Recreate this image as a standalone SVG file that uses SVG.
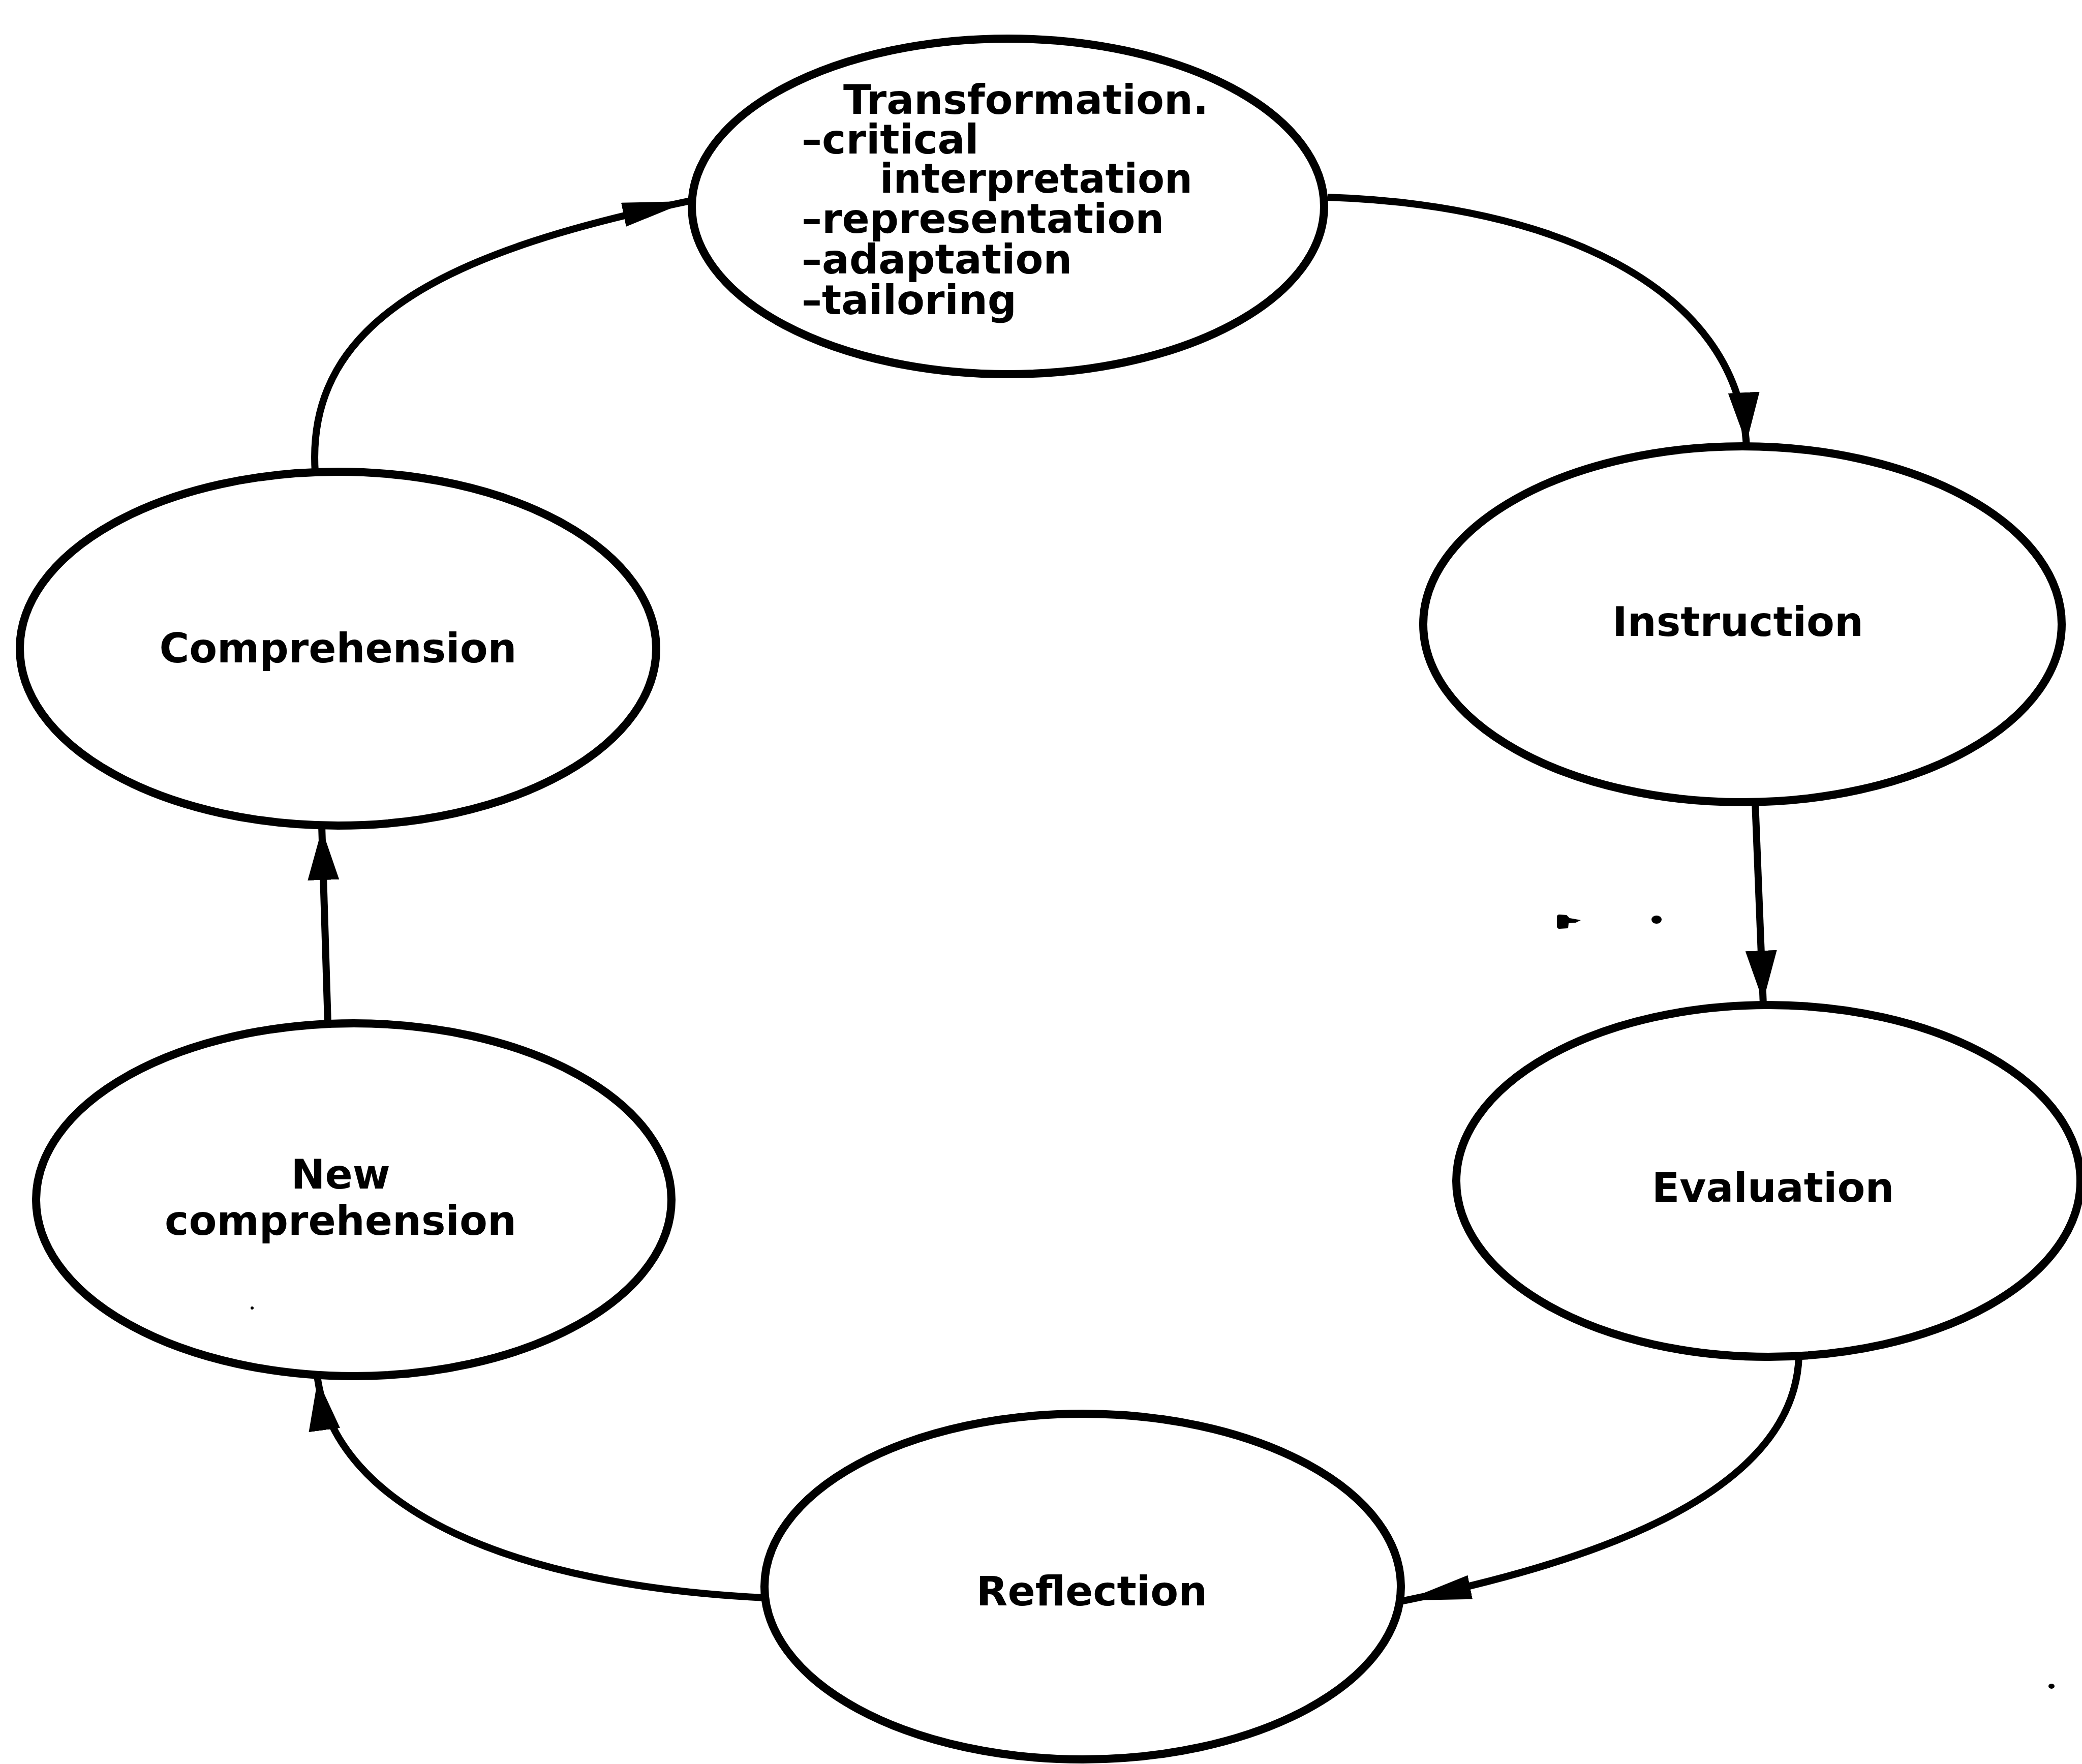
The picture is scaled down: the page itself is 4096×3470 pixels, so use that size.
<svg xmlns="http://www.w3.org/2000/svg" width="4096" height="3470" viewBox="0 0 4096 3470">
  <style>
    .node { fill: #ffffff; stroke: #000000; stroke-width: 16; }
    .link { fill: none; stroke: #000000; stroke-width: 14; }
    .label { font-family: "DejaVu Sans", "Liberation Sans", Arial, sans-serif; font-weight: bold; font-size: 80px; fill: #000000; }
    .mid { text-anchor: middle; }
    .speck { fill: #000000; stroke: none; }
  </style>
  <defs>
    <!-- short, wide arrowhead -->
    <marker id="head" markerUnits="userSpaceOnUse" viewBox="0 0 108 62" markerWidth="108" markerHeight="62" refX="107" refY="31" orient="auto">
      <path d="M0,0 L100,31 L0,62 Z" fill="#000000"/>
    </marker>
    <!-- long, narrow arrowhead -->
    <marker id="head-long" markerUnits="userSpaceOnUse" viewBox="0 0 140 48" markerWidth="140" markerHeight="48" refX="139" refY="24" orient="auto">
      <path d="M0,0 L130,24 L0,48 Z" fill="#000000"/>
    </marker>
  </defs>

  <rect x="0" y="0" width="4096" height="3470" fill="#ffffff"/>

  <g id="connectors">
    <path class="link" d="M2612,388 C3050,402 3420,560 3436,879" marker-end="url(#head)"/>
    <path class="link" d="M3453,1578 L3469,1977" marker-end="url(#head)"/>
    <path class="link" d="M3539,2668 C3530,2950 3100,3080 2756,3150" marker-end="url(#head-long)"/>
    <path class="link" d="M1505,3143 C1020,3120 660,2975 624,2707" marker-end="url(#head)"/>
    <path class="link" d="M645,2013 L633,1624" marker-end="url(#head)"/>
    <path class="link" d="M620,928 C600,620 900,490 1363,394" marker-end="url(#head-long)"/>
  </g>

  <g id="transformation">
    <ellipse class="node" cx="1983" cy="406" rx="622" ry="330"/>
    <text class="label" x="1659" y="224">Transformation.</text>
    <text class="label" x="1577" y="302">–critical</text>
    <text class="label" x="1731" y="379" textLength="615" lengthAdjust="spacingAndGlyphs">interpretation</text>
    <text class="label" x="1577" y="458">–representation</text>
    <text class="label" x="1577" y="538">–adaptation</text>
    <text class="label" x="1577" y="618">–tailoring</text>
  </g>

  <g id="instruction">
    <ellipse class="node" cx="3428" cy="1228" rx="628" ry="350"/>
    <text class="label mid" x="3419" y="1251">Instruction</text>
  </g>

  <g id="evaluation">
    <ellipse class="node" cx="3479" cy="2323" rx="614" ry="346"/>
    <text class="label mid" x="3488" y="2364">Evaluation</text>
  </g>

  <g id="reflection">
    <ellipse class="node" cx="2130" cy="3121" rx="626" ry="340"/>
    <text class="label mid" x="2148" y="3158">Reflection</text>
  </g>

  <g id="new-comprehension">
    <ellipse class="node" cx="696" cy="2360" rx="625" ry="347"/>
    <text class="label mid" x="670" y="2338">New</text>
    <text class="label mid" x="670" y="2429">comprehension</text>
  </g>

  <g id="comprehension">
    <ellipse class="node" cx="665" cy="1276" rx="626" ry="348"/>
    <text class="label mid" x="665" y="1303">Comprehension</text>
  </g>

  <g id="specks">
    <path class="speck" d="M3063,1804 Q3063,1799 3068,1799 L3082,1800 L3088,1806 L3110,1810 L3100,1815 L3086,1816 L3085,1826 L3068,1827 Q3063,1827 3063,1822 Z"/>
    <ellipse class="speck" cx="3259" cy="1809" rx="10" ry="8"/>
    <ellipse class="speck" cx="4036" cy="3317" rx="6" ry="5"/>
    <circle class="speck" cx="496" cy="2573" r="3"/>
  </g>
</svg>
